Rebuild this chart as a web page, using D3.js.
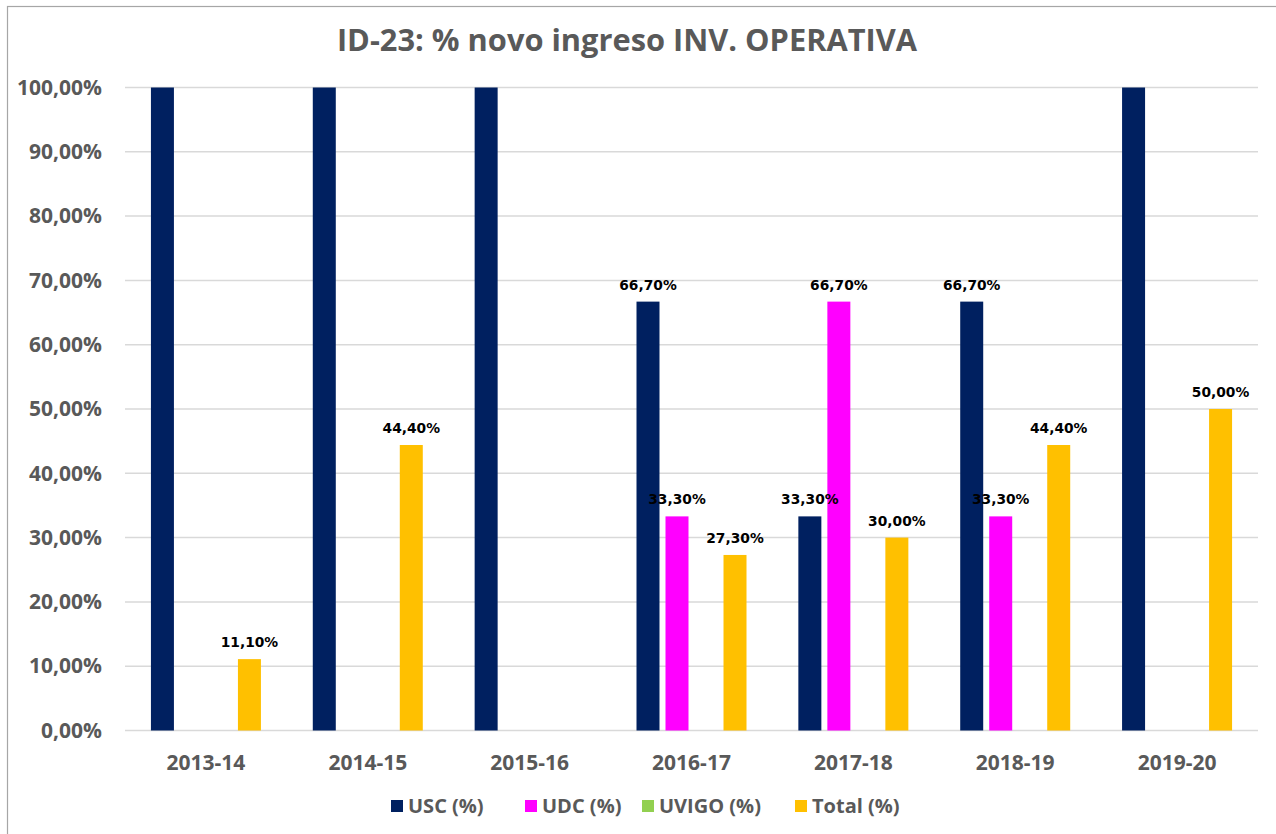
<!DOCTYPE html>
<html><head><meta charset="utf-8">
<script src="https://cdn.jsdelivr.net/npm/d3@7"></script>
<style>html,body{margin:0;padding:0;background:#fff;}</style>
</head><body>
<svg id="chart" width="1276" height="834"></svg>
<script>
const title = "ID-23: % novo ingreso INV. OPERATIVA";
const categories = ["2013-14","2014-15","2015-16","2016-17","2017-18","2018-19","2019-20"];
const seriesNames = ["USC (%)","UDC (%)","UVIGO (%)","Total (%)"];
const seriesColors = ["#002060","#FF00FF","#92D050","#FFC000"];
const usc   = [100, 100, 100, 66.7, 33.3, 66.7, 100];
const udc   = [0, 0, 0, 33.3, 66.7, 33.3, 0];
const uvigo = [0, 0, 0, 0, 0, 0, 0];
const total = [11.1, 44.4, null, 27.3, 30.0, 44.4, 50.0];
const yTicks = [0,10,20,30,40,50,60,70,80,90,100];

const seriesValues = [usc, udc, uvigo, total];
const svg = d3.select("#chart");
const W = 1276, H = 834;
const plot = {left:125, right:1258, top:87.5, bottom:730.5};

svg.append("rect").attr("x",0).attr("y",0).attr("width",W).attr("height",H).attr("fill","#fff");
svg.append("rect").attr("x",7.5).attr("y",6.5).attr("width",1300).attr("height",900)
  .attr("fill","none").attr("stroke","#a6a6a6").attr("stroke-width",1.2);

const fmt = v => d3.format(".2f")(v).replace(".", ",") + "%";

const y = d3.scaleLinear().domain([0,100]).range([plot.bottom, plot.top]);
const x0 = d3.scaleBand().domain(categories).range([plot.left, plot.right]).padding(0);
const bw = x0.bandwidth();
const groupW = 110;
const x1 = d3.scaleBand().domain(seriesNames).range([(bw-groupW)/2, (bw+groupW)/2]).paddingInner(0.207).paddingOuter(0);

// gridlines
svg.append("g").selectAll("line").data(yTicks).join("line")
  .attr("x1", plot.left).attr("x2", plot.right)
  .attr("y1", d=>y(d)).attr("y2", d=>y(d))
  .attr("stroke","#d9d9d9").attr("stroke-width",1.5);

// y axis labels
const yAxis = d3.axisLeft(y).tickValues(yTicks).tickFormat(fmt).tickSize(0).tickPadding(0);
const gy = svg.append("g").attr("transform",`translate(102,0)`).call(yAxis);
gy.select(".domain").remove();
gy.selectAll("text").attr("font-family","'Open Sans', sans-serif").attr("font-weight","bold")
  .attr("font-size","21px").attr("fill","#595959");

// x axis labels
const xAxis = d3.axisBottom(x0).tickSize(0).tickPadding(0);
const gx = svg.append("g").attr("transform",`translate(0,${plot.bottom})`).call(xAxis);
gx.select(".domain").remove();
gx.selectAll("text").attr("font-family","'Open Sans', sans-serif").attr("font-weight","bold")
  .attr("font-size","21px").attr("fill","#595959").attr("dy",null).attr("y",39.5);

// bars
const flat = [];
categories.forEach((c,i)=>{
  seriesNames.forEach((s,j)=>{
    flat.push({cat:c, ser:s, j:j, v:seriesValues[j][i]});
  });
});
const bars = flat.filter(d=>d.v!=null && d.v>0);
svg.append("g").selectAll("rect").data(bars).join("rect")
  .attr("x", d=>x0(d.cat)+x1(d.ser))
  .attr("y", d=>y(d.v))
  .attr("width", x1.bandwidth())
  .attr("height", d=>y(0)-y(d.v))
  .attr("fill", d=>seriesColors[d.j]);

// data labels (values shown for non-zero values below the axis maximum)
const labels = bars.filter(d=>d.v<100);
svg.append("g").selectAll("text").data(labels).join("text")
  .attr("x", d=>x0(d.cat)+x1(d.ser)+x1.bandwidth()/2)
  .attr("y", d=>y(d.v)-12)
  .attr("text-anchor","middle")
  .attr("font-family","'DejaVu Sans', sans-serif").attr("font-weight","bold")
  .attr("font-size","13.8px").attr("fill","#000")
  .text(d=>fmt(d.v));

// title
svg.append("text").attr("x",627).attr("y",51).attr("text-anchor","middle")
  .attr("font-family","'Open Sans', sans-serif").attr("font-weight","bold")
  .attr("font-size","30.8px").attr("fill","#595959").text(title);

// legend
const legendX = [391, 525, 642, 795];
const lg = svg.append("g").selectAll("g").data(seriesNames).join("g")
  .attr("transform",(d,i)=>`translate(${legendX[i]},806)`);
lg.append("rect").attr("x",0).attr("y",-6).attr("width",12).attr("height",12)
  .attr("fill",(d,i)=>seriesColors[i]);
lg.append("text").attr("x",17).attr("y",7)
  .attr("font-family","'Open Sans', sans-serif").attr("font-weight","bold")
  .attr("font-size","20px").attr("fill","#595959").text(d=>d);
</script>
</body></html>
